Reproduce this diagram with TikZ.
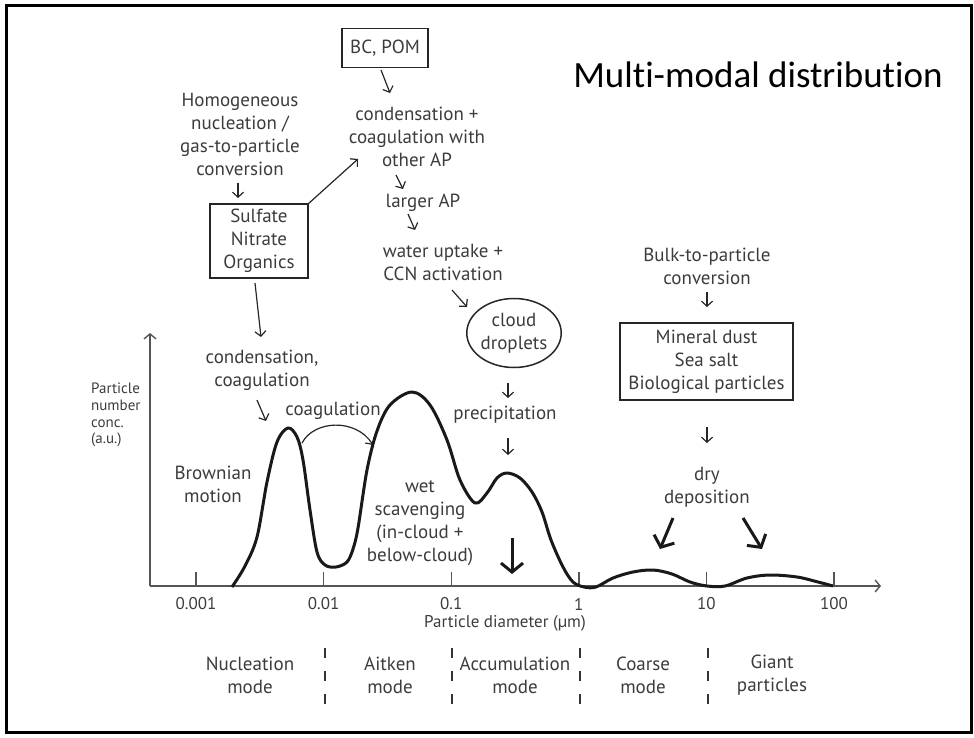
\documentclass[tikz,border=0pt]{standalone}
\usepackage{fontspec}
\setmainfont{PT Sans}
\newfontfamily\titlefont[Ligatures=NoCommon]{Carlito}
\usetikzlibrary{arrows.meta,shapes.geometric}
\definecolor{txtgray}{HTML}{3C3C3C}
\definecolor{axisgray}{HTML}{555555}
\begin{document}
\begin{tikzpicture}[x=1pt,y=-1pt,
  txt/.style={text=txtgray, font=\fontsize{19}{23}\selectfont, align=center, inner sep=0pt},
  boxed/.style={txt, draw=black!85, line width=1.5pt},
  arr/.style={draw=black!85, line width=1.2pt, -{Straight Barb[length=5pt,width=11pt]}},
  bigarr/.style={draw=black!90, line width=3pt, -{Straight Barb[length=9pt,width=22pt]}},
  axis/.style={draw=axisgray, line width=1.4pt},
  ticklab/.style={txt, font=\fontsize{17}{20}\selectfont},
  sep/.style={draw=black!80, line width=1.2pt, dash pattern=on 10pt off 13pt},
]
\useasboundingbox (0,0) rectangle (974,738);
\draw[line width=3pt] (6,6) rectangle (971,732);

% title
\node[anchor=base, font=\titlefont\fontsize{37}{42}\selectfont] (title) at (758,88) {Multi-modal distribution};

% text nodes
\node[boxed, minimum width=86pt, minimum height=39pt] (bcpom) at (385,48) {BC, POM};
\node[txt] (homog) at (240,134) {Homogeneous\\nucleation /\\gas-to-particle\\conversion};
\node[boxed, minimum width=98pt, minimum height=74pt] (sno) at (259,241) {Sulfate\\Nitrate\\Organics};
\node[txt] (condcoag) at (417,137) {condensation +\\coagulation with\\other AP};
\node[txt] (larger) at (423,203) {larger AP};
\node[txt] (water) at (443,262) {water uptake +\\CCN activation};
\node[txt, draw=black!85, line width=1.5pt, ellipse, minimum width=82pt, minimum height=69pt, inner sep=0pt] (cloud) at (514,333) {cloud\\droplets};
\node[txt] (precip) at (505,415) {precipitation};
\node[txt] (bulk) at (707,266) {Bulk-to-particle\\conversion};
\node[boxed, minimum width=173pt, minimum height=77pt] (mineral) at (706.5,361.5) {Mineral dust\\Sea salt\\Biological particles};
\node[txt] (dry) at (707,487) {dry\\deposition};
\node[txt] (condcoag2) at (262,370) {condensation,\\coagulation};
\node[txt] (coag) at (333,411) {coagulation};
\node[txt] (brown) at (213,484) {Brownian\\motion};
\node[txt] (wet) at (420,523) {wet\\scavenging\\(in-cloud +\\below-cloud)};
\node[txt, anchor=west, align=left, font=\fontsize{15}{16.7}\selectfont] (ylab) at (91,415) {Particle\\number\\conc.\\(a.u.)};

% arrow coordinates
\coordinate (a1s) at (381,70);  \coordinate (a1e) at (390,93);
\coordinate (a2s) at (238,183); \coordinate (a2e) at (238,198);
\coordinate (a3s) at (308,204); \coordinate (a3e) at (358,159);
\coordinate (a4s) at (396,175); \coordinate (a4e) at (403,189);
\coordinate (a5s) at (408,214); \coordinate (a5e) at (415,230);
\coordinate (a6s) at (452,290); \coordinate (a6e) at (467,307);
\coordinate (a7s) at (508,383); \coordinate (a7e) at (508,398);
\coordinate (a8s) at (508,438); \coordinate (a8e) at (508,455);
\coordinate (a9s) at (707,292); \coordinate (a9e) at (707,307);
\coordinate (a10s) at (707,427); \coordinate (a10e) at (707,443);
\coordinate (a11s) at (255,283); \coordinate (a11e) at (261,337);
\coordinate (a12s) at (257,400); \coordinate (a12e) at (266,421);
\draw[arr] (a1s) -- (a1e);
\draw[arr] (a2s) -- (a2e);
\draw[arr] (a3s) -- (a3e);
\draw[arr] (a4s) -- (a4e);
\draw[arr] (a5s) -- (a5e);
\draw[arr] (a6s) -- (a6e);
\draw[arr] (a7s) -- (a7e);
\draw[arr] (a8s) -- (a8e);
\draw[arr] (a9s) -- (a9e);
\draw[arr] (a10s) -- (a10e);
\draw[arr] (a11s) -- (a11e);
\draw[arr] (a12s) -- (a12e);

% coagulation arc
\coordinate (c1) at (302,443); \coordinate (c2) at (373,445);
\draw[arr] (c1) .. controls (314,420) and (356,418) .. (c2);

% bold arrows
\coordinate (b1s) at (673,518); \coordinate (b1e) at (660,549);
\coordinate (b2s) at (743,518); \coordinate (b2e) at (762,549);
\coordinate (b3s) at (512,538); \coordinate (b3e) at (512,574);
\draw[bigarr] (b1s) -- (b1e);
\draw[bigarr] (b2s) -- (b2e);
\draw[bigarr] (b3s) -- (b3e);

% axes
\coordinate (orig) at (150,586);
\coordinate (ytip) at (150,333);
\coordinate (xtip) at (881,586);
\draw[axis, -{Straight Barb[length=5pt,width=12pt]}] (orig) -- (ytip);
\draw[axis, -{Straight Barb[length=5pt,width=12pt]}] (orig) -- (xtip);
\foreach \x/\l [count=\i] in {196/0.001,323.6/0.01,451.2/0.1,578.8/1,706.4/10,834/100}{
  \draw[axis] (\x,586) -- (\x,572);
  \node[ticklab] (tl\i) at (\x,604) {\l};
}
\node[txt, font=\fontsize{17}{20}\selectfont] (xlab) at (505,623) {Particle diameter (µm)};

% distribution curve
\draw[line width=3pt, line join=round, black!90] plot[smooth, tension=0.55] coordinates {
(232,587) (245,566) (257,537) (267,482) (277,442) (288,428) (297,437) (303,460) (310,510) (317,552) (325,565) (336,567) (347,562) (353,549) (358,528) (367,470) (377,431) (390,405) (412,392) (430,405) (447,440) (460,480) (475,503) (487,493) (497,478) (507,473) (520,478) (532,492) (542,512) (551,540) (563,567) (573,582) (584,587) (596,587) (613,578) (633,572) (653,570) (672,574) (690,582) (707,586) (725,586) (747,578) (770,575) (797,577) (818,582) (833,586)};

% mode labels and separators
\node[txt] (nuc) at (250,675) {Nucleation\\mode};
\node[txt] (ait) at (390,675) {Aitken\\mode};
\node[txt] (acc) at (515,675) {Accumulation\\mode};
\node[txt] (coa) at (643,675) {Coarse\\mode};
\node[txt] (gia) at (772,675) {Giant\\particles};
\foreach \x [count=\i] in {325,452,580,708}{
  \coordinate (s\i t) at (\x,648);
  \coordinate (s\i b) at (\x,710);
  \draw[sep] (s\i t) -- (s\i b);
}
\end{tikzpicture}
\end{document}
